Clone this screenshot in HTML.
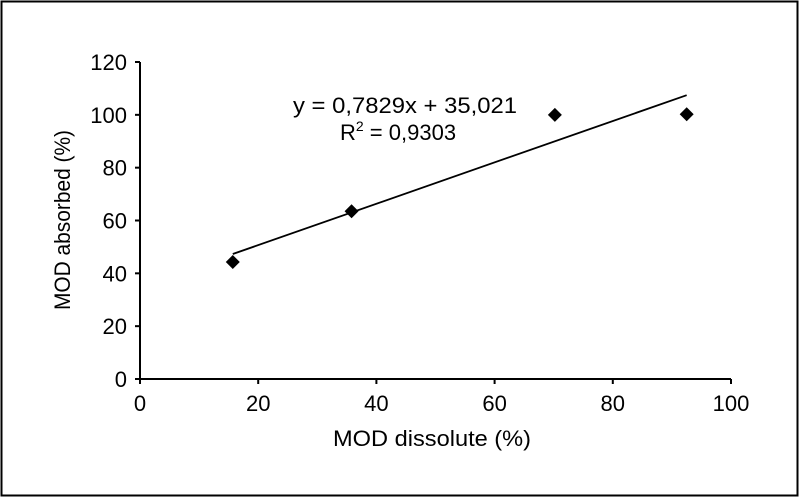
<!DOCTYPE html>
<html><head><meta charset="utf-8"><style>
body{margin:0;background:#fff;}
svg{display:block;font-family:"Liberation Sans",Arial,sans-serif;}
</style></head><body>
<svg id="chart" width="800" height="498" viewBox="0 0 800 498" xmlns="http://www.w3.org/2000/svg">
<rect x="1.5" y="1.5" width="796" height="494" fill="#fff" stroke="#000" stroke-width="2"/>
<g id="axes"></g>
<g id="marks"></g>
<text x="293" y="113" font-size="22" textLength="224" lengthAdjust="spacingAndGlyphs">y = 0,7829x + 35,021</text>
<text x="340" y="140" font-size="22">R<tspan font-size="14" dy="-9">2</tspan><tspan dy="9"> = 0,9303</tspan></text>
<text x="333" y="446" font-size="22" textLength="198" lengthAdjust="spacingAndGlyphs">MOD dissolute (%)</text>
<text transform="translate(70,310) rotate(-90)" font-size="22" textLength="180" lengthAdjust="spacingAndGlyphs">MOD absorbed  (%)</text>
</svg>
<script>
const xTicks=[0,20,40,60,80,100];
const yTicks=[0,20,40,60,80,100,120];
const xVals=[15.7,35.8,70.2,92.5];
const yVals=[44.3,63.5,100,100.2];
const slope=0.7829, intercept=35.021;
const X0=140,X1=731,Y0=379,Y1=62;
const sx=v=>X0+(v-0)/(100-0)*(X1-X0);
const sy=v=>Y0-(v-0)/(120-0)*(Y0-Y1);
const NS="http://www.w3.org/2000/svg";
const axes=document.getElementById('axes'),marks=document.getElementById('marks');
function mk(tag,attrs,parent){const e=document.createElementNS(NS,tag);for(const k in attrs)e.setAttribute(k,attrs[k]);parent.appendChild(e);return e;}
let l=mk('line',{x1:X0,y1:Y0,x2:X1,y2:Y0,stroke:'#000','stroke-width':2},axes);


l=mk('line',{x1:X0,y1:Y0,x2:X0,y2:Y1,stroke:'#000','stroke-width':2},axes);


xTicks.forEach(v=>{const x=sx(v);
 const t=mk('line',{x1:x,y1:Y0,x2:x,y2:Y0+5,stroke:'#000','stroke-width':2},axes);
 
 
 const tx=mk('text',{x:x,y:Y0+32,'font-size':22,'text-anchor':'middle'},axes);tx.textContent=v;
 
 });
yTicks.forEach(v=>{const y=sy(v);
 const t=mk('line',{x1:X0-5,y1:y,x2:X0,y2:y,stroke:'#000','stroke-width':2},axes);
 
 
 const tx=mk('text',{x:X0-13,y:y+8,'font-size':22,'text-anchor':'end'},axes);tx.textContent=v;
 
 });
const xmin=Math.min(...xVals),xmax=Math.max(...xVals);
const tl=mk('line',{x1:sx(xmin),y1:sy(slope*xmin+intercept),x2:sx(xmax),y2:sy(slope*xmax+intercept),stroke:'#000','stroke-width':1.8},marks);


xVals.forEach((v,i)=>{const x=sx(v),y=sy(yVals[i]),r=7;
 const p=mk('polygon',{points:`${x},${y-r} ${x+r},${y} ${x},${y+r} ${x-r},${y}`,fill:'#000'},marks);
 
 });
</script>
</body></html>
